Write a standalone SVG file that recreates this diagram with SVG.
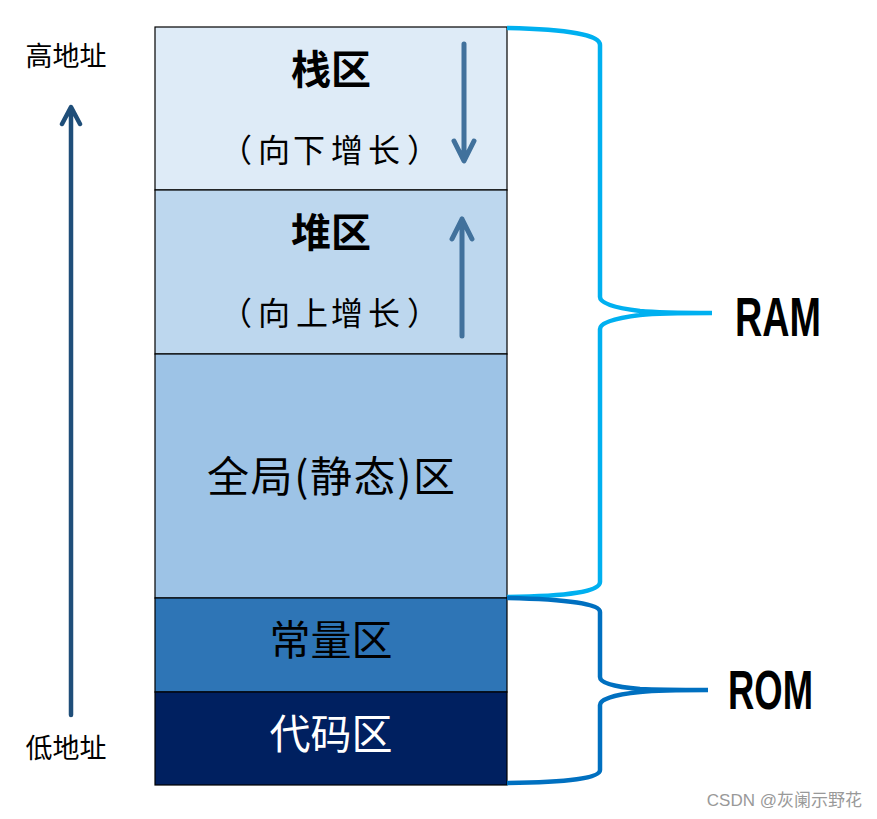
<svg xmlns="http://www.w3.org/2000/svg" width="877" height="819" viewBox="0 0 877 819">
<style>
.box{stroke:#000;stroke-width:1.2}
.cjk{font-family:"Noto Sans CJK SC","Liberation Sans",sans-serif;text-anchor:middle}
.lbl{font-family:"Liberation Sans","Noto Sans CJK SC",sans-serif;font-weight:bold;fill:#000}
.wm{font-family:"Liberation Sans","Noto Sans CJK SC",sans-serif;fill:#999}
.arr{fill:none;stroke-linecap:round;stroke-linejoin:round}
.brace{fill:none;stroke-width:4.5;stroke-linecap:butt}
</style>
<rect width="877" height="819" fill="#fff"/>
<g id="stack">
<rect class="box" x="155" y="27" width="352" height="163" fill="#DEEBF7"/>
<text class="cjk" x="331" y="84" font-size="40" font-weight="bold">栈区</text>
<text class="cjk" x="236 274 309 347 384 423" y="162" font-size="32">（向下增长）</text>
</g>
<g id="heap">
<rect class="box" x="155" y="190" width="352" height="164" fill="#BDD7EE"/>
<text class="cjk" x="331" y="247" font-size="40" font-weight="bold">堆区</text>
<text class="cjk" x="236 274 312 347 384 423" y="325" font-size="32">（向上增长）</text>
</g>
<g id="global">
<rect class="box" x="155" y="354" width="352" height="244" fill="#9DC3E6"/>
<text class="cjk" x="331" y="492" font-size="42" textLength="248" lengthAdjust="spacing">全局(静态)区</text>
</g>
<g id="const">
<rect class="box" x="155" y="598" width="352" height="94" fill="#2E75B6"/>
<text class="cjk" x="331" y="655" font-size="41">常量区</text>
</g>
<g id="code">
<rect class="box" x="155" y="692" width="352" height="93" fill="#002060"/>
<text class="cjk" x="331" y="749" font-size="41" fill="#fff">代码区</text>
</g>
<g id="high">
<text class="cjk" x="66" y="66" font-size="27">高地址</text>
</g>
<g id="low">
<text class="cjk" x="66" y="758" font-size="27">低地址</text>
</g>
<g id="ram">
<text class="lbl" x="735" y="336" font-size="55" textLength="86" lengthAdjust="spacingAndGlyphs">RAM</text>
</g>
<g id="rom">
<text class="lbl" x="728" y="709" font-size="55" textLength="85" lengthAdjust="spacingAndGlyphs">ROM</text>
</g>
<g id="connectors">
<path class="arr" d="M71,715 L71,108 M62,124 L71,107 L80,124" stroke="#1F4E79" stroke-width="4.5"/>
<path class="arr" d="M464,44 L464,160 M454,141 L464,161 L474,141" stroke="#41719C" stroke-width="5"/>
<path class="arr" d="M462,336 L462,219 M452,239 L462,219 L472,239" stroke="#41719C" stroke-width="5"/>
<path class="brace" stroke="#00B0F0" d="M507,28 Q600,30 600,45 L600,297 Q600,306 640,311 Q660,313 712,313 M712,313 Q660,313 640,315 Q600,320 600,329 L600,582 Q600,596 507,597"/>
<path class="brace" stroke="#0070C0" d="M507,598 Q600,600 600,612 L600,677 Q600,686 640,689 Q660,690 708,690 M708,690 Q660,690 640,692 Q600,696 600,705 L600,770 Q600,782 507,783"/>
</g>
<text class="wm" x="862" y="806" font-size="17" text-anchor="end">CSDN @灰阑示野花</text>
</svg>
